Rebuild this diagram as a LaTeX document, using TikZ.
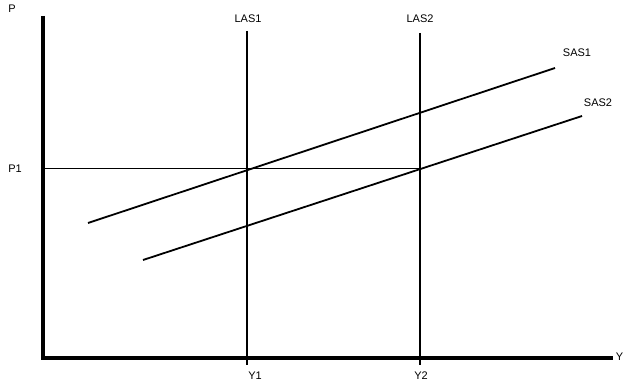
\documentclass[tikz,border=0pt]{standalone}
\usepackage{fontspec}
\setmainfont{Liberation Sans}
\begin{document}
\begin{tikzpicture}[x=1pt,y=-1pt,
  lbl/.style={font=\fontsize{11}{12}\selectfont, inner sep=0pt},
  axisline/.style={line width=4.5pt},
  curve/.style={line width=1.8pt},
  guide/.style={line width=0.8pt}]
\useasboundingbox (0,0) rectangle (624,385);
% axes
\coordinate (O) at (43,358);
\coordinate (Ytop) at (43,16);
\coordinate (Xend) at (613,358);
\draw[axisline] (Ytop) -- (O) -- (Xend);
\node[lbl] (P) at (12,9) {P};
\node[lbl,anchor=east] (Yx) at (623.5,357) {Y};
% P1 guide
\coordinate (P1L) at (43,168);
\coordinate (E2) at (420,168);
\draw[guide] (P1L) -- (E2);
\node[lbl] (P1) at (15,169) {P1};
% LAS lines
\coordinate (L1t) at (247,31);
\coordinate (L1b) at (247,365);
\coordinate (L2t) at (420,33);
\coordinate (L2b) at (420,365);
\draw[curve] (L1t) -- (L1b);
\draw[curve] (L2t) -- (L2b);
\node[lbl] (LAS1) at (248,19) {LAS1};
\node[lbl] (LAS2) at (420,19) {LAS2};
\node[lbl] (Y1) at (255,376) {Y1};
\node[lbl] (Y2) at (421,376) {Y2};
% SAS lines
\coordinate (S1a) at (88,223);
\coordinate (S1b) at (555,68);
\coordinate (S2a) at (143,260);
\coordinate (S2b) at (582,116);
\draw[curve] (S1a) -- (S1b);
\draw[curve] (S2a) -- (S2b);
\node[lbl] (SAS1) at (577,53) {SAS1};
\node[lbl] (SAS2) at (598,103) {SAS2};
\end{tikzpicture}
\end{document}
